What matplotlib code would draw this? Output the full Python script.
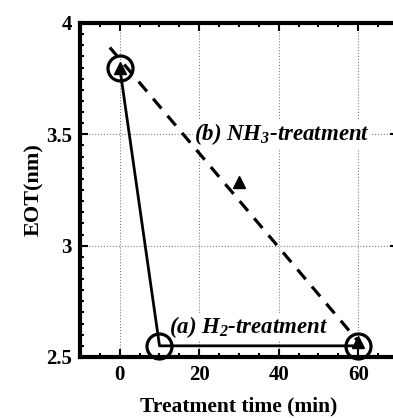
import matplotlib
matplotlib.use("Agg")
import matplotlib.pyplot as plt
from matplotlib.ticker import MultipleLocator

# (a) H2-treatment
h2_time = [0, 10, 60]
h2_eot = [3.80, 2.55, 2.55]

# (b) NH3-treatment
nh3_time = [0, 30, 60]
nh3_eot = [3.80, 3.285, 2.565]
nh3_fit_time = [-2.5, 60]
nh3_fit_eot = [3.89, 2.57]

x_ticks = [0, 20, 40, 60]
y_ticks = [2.5, 3, 3.5, 4]
y_ticklabels = ["2.5", "3", "3.5", "4"]

plt.rcParams['font.family'] = ['Liberation Serif', 'DejaVu Serif']
plt.rcParams['mathtext.fontset'] = 'custom'
plt.rcParams['mathtext.it'] = 'Liberation Serif:italic:bold'
plt.rcParams['mathtext.rm'] = 'Liberation Serif:italic:bold'

fig = plt.figure(figsize=(3.93, 4.18), dpi=100)
ax = fig.add_axes([0.2036, 0.146, 0.809, 0.799])

ax.plot(nh3_fit_time, nh3_fit_eot, color='black', lw=2.3, ls=(0, (4, 3)), zorder=2)
ax.plot(nh3_time, nh3_eot, ls='none', marker='^', ms=9, color='black', zorder=4, clip_on=False)
ax.plot(h2_time, h2_eot, color='black', lw=2, zorder=3)
ax.plot(h2_time, h2_eot, ls='none', marker='o', ms=18, mfc='none', mec='black', mew=2.3,
        zorder=5, clip_on=False)

ax.set_xlim(-10, 70)
ax.set_ylim(2.5, 4)
ax.set_xticks(x_ticks)
ax.set_yticks(y_ticks)
ax.set_yticklabels(y_ticklabels)
ax.xaxis.set_minor_locator(MultipleLocator(5))
ax.yaxis.set_minor_locator(MultipleLocator(0.05))
ax.tick_params(which='both', direction='in', top=True, right=True, width=1.5)
ax.tick_params(which='major', length=6, labelsize=15, pad=6)
ax.tick_params(which='minor', length=3)
for lab in ax.get_xticklabels() + ax.get_yticklabels():
    lab.set_fontweight('bold')
for sp in ax.spines.values():
    sp.set_linewidth(3)

ax.grid(True, which='major', ls=':', lw=0.8, color='gray')
ax.set_axisbelow(True)

ax.set_xlabel('Treatment time (min)', fontsize=15.5, fontweight='bold', labelpad=8)
ax.set_ylabel('EOT(nm)', fontsize=16, fontweight='bold', labelpad=1)

ax.text(18.7, 3.5, r'(b) NH$_3$-treatment', fontsize=16.5, fontweight='bold', style='italic',
        va='center', ha='left', bbox=dict(fc='white', ec='none', pad=1), zorder=3)
ax.text(12.5, 2.635, r'(a) H$_2$-treatment', fontsize=16.5, fontweight='bold', style='italic',
        va='center', ha='left', bbox=dict(fc='white', ec='none', pad=1), zorder=3)

fig.savefig('out.png', dpi=100)
